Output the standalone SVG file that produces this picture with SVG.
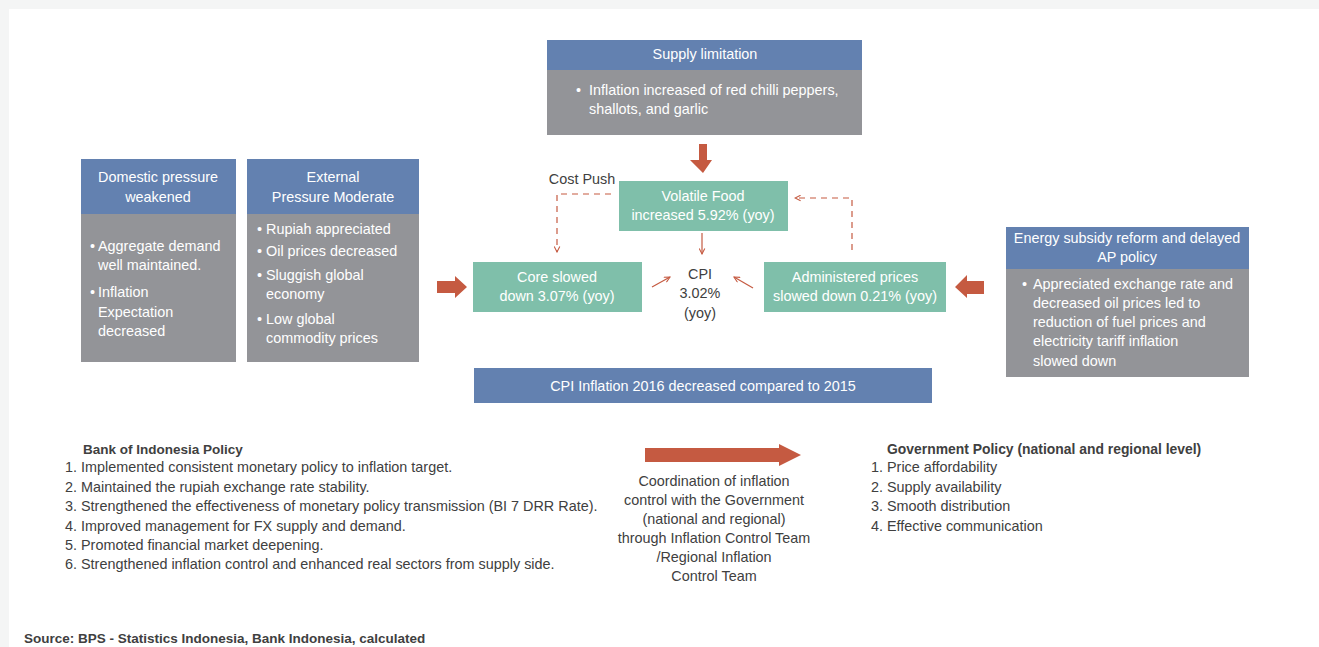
<svg xmlns="http://www.w3.org/2000/svg" width="1319" height="647" viewBox="0 0 1319 647">
<style>
.hd{fill:#6381b0}
.bd{fill:#939498}
.tl{fill:#7fbfaa}
.bar{fill:#6381b0}
text{font-family:"Liberation Sans",Arial,sans-serif;font-size:14.4px}
.w{fill:#ffffff}
.c{text-anchor:middle}
.d{fill:#404040}
.b{font-weight:bold;font-size:13.5px}
.g{font-size:13.9px}
.big{fill:#c55a41}
.thin{stroke:#c55a41;stroke-width:1.2;fill:none}
.dash{stroke-dasharray:6,5}
</style>
<defs>
<marker id="chev" viewBox="0 0 10 10" refX="9" refY="5" markerWidth="7" markerHeight="7" orient="auto" markerUnits="userSpaceOnUse">
<polyline points="1,1 9,5 1,9" fill="none" stroke="#c55a41" stroke-width="1.5"/>
</marker>
</defs>
<rect x="0" y="0" width="1319" height="647" fill="#f4f5f5"/>
<rect x="9" y="9" width="1310" height="638" fill="#ffffff"/>

<g id="domestic">
<rect class="hd" x="81" y="159" width="155" height="55"/>
<rect class="bd" x="81" y="214" width="155" height="148"/>
<text class="w c" x="158" y="182">Domestic pressure</text>
<text class="w c" x="158" y="202">weakened</text>
<text class="w" x="90" y="251">•</text>
<text class="w" x="98" y="251">Aggregate demand</text>
<text class="w" x="98" y="270">well maintained.</text>
<text class="w" x="90" y="297">•</text>
<text class="w" x="98" y="297">Inflation</text>
<text class="w" x="98" y="317">Expectation</text>
<text class="w" x="98" y="336">decreased</text>
</g>

<g id="external">
<rect class="hd" x="247" y="159" width="172" height="55"/>
<rect class="bd" x="247" y="214" width="172" height="148"/>
<text class="w c" x="333" y="182">External</text>
<text class="w c" x="333" y="202">Pressure Moderate</text>
<text class="w" x="257" y="234">•</text>
<text class="w" x="266" y="234">Rupiah appreciated</text>
<text class="w" x="257" y="256">•</text>
<text class="w" x="266" y="256">Oil prices decreased</text>
<text class="w" x="257" y="280">•</text>
<text class="w" x="266" y="280">Sluggish global</text>
<text class="w" x="266" y="299">economy</text>
<text class="w" x="257" y="324">•</text>
<text class="w" x="266" y="324">Low global</text>
<text class="w" x="266" y="343">commodity prices</text>
</g>

<g id="supply">
<rect class="hd" x="547" y="40" width="315" height="30"/>
<rect class="bd" x="547" y="70" width="315" height="65"/>
<text class="w c" x="705" y="59">Supply limitation</text>
<text class="w" x="576" y="95">•</text>
<text class="w" x="589" y="95">Inflation increased of red chilli peppers,</text>
<text class="w" x="589" y="114">shallots, and garlic</text>
</g>

<g id="volatile">
<rect class="tl" x="619" y="181" width="169" height="50"/>
<text class="w c" x="703" y="201">Volatile Food</text>
<text class="w c" x="703" y="220">increased 5.92% (yoy)</text>
</g>

<g id="cost-push">
<text class="d c" x="582" y="184">Cost Push</text>
</g>

<g id="core">
<rect class="tl" x="473" y="262" width="169" height="50"/>
<text class="w c" x="557" y="282">Core slowed</text>
<text class="w c" x="557" y="301">down 3.07% (yoy)</text>
</g>

<g id="cpi">
<text class="d c" x="700" y="279">CPI</text>
<text class="d c" x="700" y="298">3.02%</text>
<text class="d c" x="700" y="318">(yoy)</text>
</g>

<g id="administered">
<rect class="tl" x="764" y="262" width="182" height="50"/>
<text class="w c" x="855" y="282">Administered prices</text>
<text class="w c" x="855" y="301">slowed down 0.21% (yoy)</text>
</g>

<g id="energy">
<rect class="hd" x="1006" y="227" width="243" height="42"/>
<rect class="bd" x="1006" y="269" width="243" height="108"/>
<text class="w c" x="1127" y="243">Energy subsidy reform and delayed</text>
<text class="w c" x="1127" y="262">AP policy</text>
<text class="w" x="1022" y="289">•</text>
<text class="w" x="1033" y="289">Appreciated exchange rate and</text>
<text class="w" x="1033" y="308">decreased oil prices led to</text>
<text class="w" x="1033" y="327">reduction of fuel prices and</text>
<text class="w" x="1033" y="346">electricity tariff inflation</text>
<text class="w" x="1033" y="366">slowed down</text>
</g>

<g id="cpi-inflation">
<rect class="bar" x="474" y="368" width="458" height="35"/>
<text class="w c" x="703" y="391">CPI Inflation 2016 decreased compared to 2015</text>
</g>

<g id="bank-policy">
<text class="d b" x="83" y="454">Bank of Indonesia Policy</text>
<text class="d" x="65" y="472">1. Implemented consistent monetary policy to inflation target.</text>
<text class="d" x="65" y="492">2. Maintained the rupiah exchange rate stability.</text>
<text class="d" x="65" y="511">3. Strengthened the effectiveness of monetary policy transmission (BI 7 DRR Rate).</text>
<text class="d" x="65" y="531">4. Improved management for FX supply and demand.</text>
<text class="d" x="65" y="550">5. Promoted financial market deepening.</text>
<text class="d" x="65" y="569">6. Strengthened inflation control and enhanced real sectors from supply side.</text>
</g>

<g id="coordination">
<text class="d c" x="714" y="486">Coordination of inflation</text>
<text class="d c" x="714" y="505">control with the Government</text>
<text class="d c" x="714" y="524">(national and regional)</text>
<text class="d c" x="714" y="543">through Inflation Control Team</text>
<text class="d c" x="714" y="562">/Regional Inflation</text>
<text class="d c" x="714" y="581">Control Team</text>
</g>

<g id="gov-policy">
<text class="d b g" x="887" y="454">Government Policy (national and regional level)</text>
<text class="d" x="871" y="472">1. Price affordability</text>
<text class="d" x="871" y="492">2. Supply availability</text>
<text class="d" x="871" y="511">3. Smooth distribution</text>
<text class="d" x="871" y="531">4. Effective communication</text>
</g>

<g id="source">
<text class="d b" x="24" y="643">Source: BPS - Statistics Indonesia, Bank Indonesia, calculated</text>
</g>

<g id="connectors">
<polygon class="big" points="699,144 707,144 707,160 712,160 703,173 690,160 699,160"/>
<polygon class="big" points="437,281 455,281 455,276 467,287 455,298 455,293 437,293"/>
<polygon class="big" points="984,281 967,281 967,275 955,287 967,298 967,294 984,294"/>
<polygon class="big" points="645,448 779,448 779,444 801,455 779,466 779,462 645,462"/>
<polyline class="thin dash" points="611,194 557,194 557,252" marker-end="url(#chev)"/>
<polyline class="thin dash" points="852,250 852,198 795,198" marker-end="url(#chev)"/>
<line class="thin" x1="702" y1="233" x2="702" y2="254" marker-end="url(#chev)"/>
<line class="thin" x1="652" y1="287" x2="670" y2="277" marker-end="url(#chev)"/>
<line class="thin" x1="753" y1="288" x2="734" y2="277" marker-end="url(#chev)"/>
</g>
</svg>
